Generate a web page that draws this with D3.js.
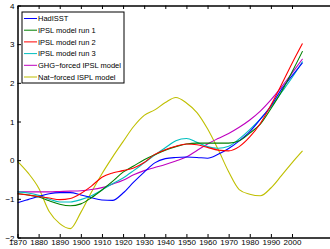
<!DOCTYPE html>
<html>
<head>
  <meta charset="utf-8">
  <script src="https://d3js.org/d3.v7.min.js"></script>
  <style>
    body { margin: 0; background: #fff; }
    svg { display: block; font-family: 'Liberation Sans', Arial, sans-serif; }
  </style>
</head>
<body>
<svg width="330" height="249"></svg>
<script>
var years = [1870,1875,1880,1885,1890,1895,1900,1905,1910,1915,1920,1925,1930,1935,
             1940,1945,1950,1955,1960,1965,1970,1975,1980,1985,1990,1995,2000,2005];

var hadisst = [-1.10,-1.02,-0.94,-0.87,-0.84,-0.84,-0.90,-0.97,-1.03,-1.04,-0.85,-0.57,-0.31,-0.07,
               0.04,0.07,0.08,0.07,0.05,0.15,0.30,0.50,0.74,1.06,1.40,1.83,2.18,2.52];
var run1 = [-0.87,-0.90,-0.95,-1.05,-1.14,-1.18,-1.13,-0.97,-0.77,-0.55,-0.31,-0.15,0.01,0.14,
            0.26,0.35,0.42,0.44,0.44,0.44,0.44,0.50,0.70,0.93,1.33,1.77,2.28,2.82];
var run2 = [-0.87,-0.90,-0.94,-0.98,-1.02,-0.99,-0.86,-0.67,-0.44,-0.33,-0.27,-0.20,-0.06,0.15,
            0.27,0.36,0.42,0.40,0.33,0.26,0.24,0.35,0.60,0.95,1.42,1.95,2.50,3.02];
var run3 = [-0.82,-0.85,-0.91,-1.01,-1.08,-1.08,-1.02,-0.92,-0.77,-0.61,-0.46,-0.27,-0.07,0.13,
            0.32,0.50,0.56,0.46,0.35,0.31,0.36,0.55,0.79,1.06,1.38,1.75,2.13,2.55];
var ghg = [-0.82,-0.82,-0.82,-0.82,-0.81,-0.80,-0.79,-0.76,-0.71,-0.62,-0.52,-0.38,-0.27,-0.19,
           -0.11,-0.02,0.08,0.25,0.42,0.56,0.69,0.85,1.04,1.27,1.56,1.89,2.25,2.62];
var nat = [-0.03,-0.33,-0.72,-1.33,-1.64,-1.77,-1.35,-0.83,-0.35,0.08,0.48,0.87,1.16,1.30,
           1.49,1.62,1.48,1.23,0.81,0.28,-0.30,-0.76,-0.88,-0.92,-0.72,-0.40,-0.07,0.24];

var seriesNames = ["HadISST", "IPSL model run 1", "IPSL model run 2", "IPSL model run 3",
                   "GHG\u2212forced IPSL model", "Nat\u2212forced ISPL model"];
var seriesColors = ["#0000ff", "#008000", "#ff0000", "#00bfbf", "#bf00bf", "#bfbf00"];
var xTicks = [1870,1880,1890,1900,1910,1920,1930,1940,1950,1960,1970,1980,1990,2000];
var yTicks = [-2,-1,0,1,2,3,4];

var svg = d3.select("svg");

var x = d3.scaleLinear().domain([1870, 2018]).range([17.5, 330]);
var y = d3.scaleLinear().domain([-2, 4]).range([237.5, 5.5]);

var allSeries = [hadisst, run1, run2, run3, ghg, nat];
var line = d3.line()
  .x(function(d, i) { return x(years[i]); })
  .y(function(d) { return y(d); })
  .curve(d3.curveMonotoneX);

// draw order: nat at the back
[5, 4, 3, 0, 1, 2].forEach(function(k) {
  svg.append("path")
    .attr("d", line(allSeries[k]))
    .attr("fill", "none")
    .attr("stroke", seriesColors[k])
    .attr("stroke-width", 1.1);
});

// axes: ticks point inward like matlab
var axisB = d3.axisBottom(x).tickValues(xTicks).tickFormat(d3.format("d"))
  .tickSizeInner(-3.5).tickSizeOuter(0).tickPadding(2);
var axisT = d3.axisTop(x).tickValues(xTicks).tickFormat(function() { return ""; })
  .tickSizeInner(-3.5).tickSizeOuter(0);
var axisL = d3.axisLeft(y).tickValues(yTicks)
  .tickFormat(function(d) { return d < 0 ? "\u2212" + (-d) : d; })
  .tickSizeInner(-3.5).tickSizeOuter(0).tickPadding(3);

svg.append("g").attr("transform", "translate(0,237.5)").call(axisB);
svg.append("g").attr("transform", "translate(0,5.5)").call(axisT);
svg.append("g").attr("transform", "translate(17.5,0)").call(axisL);

svg.selectAll(".domain").attr("stroke", "#000").attr("stroke-width", 1.5);
svg.selectAll(".tick line").attr("stroke", "#000");
svg.selectAll(".tick text").attr("font-size", "8px").attr("fill", "#000")
  .attr("font-family", "'Liberation Sans', Arial, sans-serif");

// legend
var lg = svg.append("g").attr("transform", "translate(22,12)");
lg.append("rect")
  .attr("width", 102).attr("height", 71)
  .attr("fill", "#fff").attr("stroke", "#000").attr("stroke-width", 1);

seriesNames.forEach(function(name, i) {
  var ly = 6.5 + i * 11.7;
  lg.append("line")
    .attr("x1", 2).attr("x2", 15).attr("y1", ly).attr("y2", ly)
    .attr("stroke", seriesColors[i]).attr("stroke-width", 1);
  lg.append("text")
    .attr("x", 16).attr("y", ly).attr("dy", "0.35em")
    .attr("font-size", "7.5px")
    .text(name);
});
</script>
</body>
</html>
